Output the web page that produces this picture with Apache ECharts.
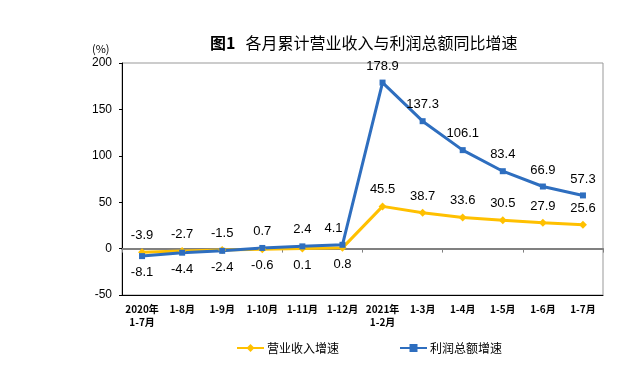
<!DOCTYPE html>
<html><head><meta charset="utf-8">
<script src="https://cdn.jsdelivr.net/npm/echarts@6/dist/echarts.min.js"></script>
<style>html,body{margin:0;padding:0;background:#fff}#c{width:640px;height:370px}</style>
</head><body><div id="c"></div>
<script>
const categories = ['2020年\n1-7月','1-8月','1-9月','1-10月','1-11月','1-12月','2021年\n1-2月','1-3月','1-4月','1-5月','1-6月','1-7月'];
const revenueGrowth = [-3.9,-2.7,-1.5,-0.6,0.1,0.8,45.5,38.7,33.6,30.5,27.9,25.6];
const profitGrowth = [-8.1,-4.4,-2.4,0.7,2.4,4.1,178.9,137.3,106.1,83.4,66.9,57.3];
const yTicks = [-50,0,50,100,150,200];
const seriesNames = ['营业收入增速','利润总额增速'];
const titleNo = '图1';
const titleText = '各月累计营业收入与利润总额同比增速';

// lower series labels go below only where the two lines nearly touch
function mk(vals, other){
  return vals.map((v,i)=>{
    const below = v < other[i] && other[i]-v < 20;
    const jump = i+1 < vals.length && vals[i+1]-v > 50;
    return {value:v, label:{position: below?'bottom':'top', offset: jump?[-9,0]:[0,0]}};
  });
}
const chart = echarts.init(document.getElementById('c'));
const lblFont = {fontFamily:'Liberation Sans, Arial', fontSize:13, color:'#000'};
chart.setOption({
  animation:false,
  title:{text:'{a|'+titleNo+'}  {b|'+titleText+'}', left:205, top:29,
    textStyle:{rich:{
      a:{fontFamily:'Noto Sans CJK SC', fontSize:16, fontWeight:'bold', color:'#000'},
      b:{fontFamily:'Noto Sans CJK SC', fontSize:16, fontWeight:'normal', color:'#000'}}}},
  graphic:[{type:'text', left:92, top:43, style:{text:'(%)', font:'11px Noto Sans CJK SC', fill:'#000'}}],
  grid:{left:122, right:37, top:63, bottom:75, show:true, borderColor:'#999', borderWidth:1},
  legend:{left:231, top:337, itemWidth:27, itemHeight:10, itemGap:60,
    textStyle:{fontFamily:'Noto Sans CJK SC', fontSize:12, color:'#000', padding:[0,0,0,-2]},
    data:seriesNames},
  xAxis:[
    {type:'category', data:categories, position:'bottom', boundaryGap:true,
     axisLine:{onZero:true, lineStyle:{color:'#808080', width:2}},
     axisTick:{show:true, length:4, lineStyle:{color:'#808080'}},
     axisLabel:{show:false}},
    {type:'category', data:categories, position:'bottom', boundaryGap:true,
     axisLine:{onZero:false, lineStyle:{color:'#000', width:1}},
     axisTick:{show:false},
     axisLabel:{interval:0, fontFamily:'Noto Sans CJK SC', fontSize:10, fontWeight:'bold', color:'#000', margin:8, lineHeight:13}}
  ],
  yAxis:{type:'value', min:yTicks[0], max:yTicks[yTicks.length-1], interval:50,
    axisLine:{show:true, lineStyle:{color:'#000'}},
    axisTick:{show:true, length:3, lineStyle:{color:'#000'}},
    splitLine:{show:false},
    axisLabel:{fontFamily:'Liberation Sans, Arial', fontSize:12, color:'#000', margin:10}},
  series:[
    {name:seriesNames[0], type:'line', data:mk(revenueGrowth, profitGrowth), xAxisIndex:0,
     symbol:'diamond', symbolSize:8, lineStyle:{color:'#FFC000', width:3}, itemStyle:{color:'#FFC000'},
     label:{show:true, distance:6, formatter:p=>p.value.toFixed(1), ...lblFont}},
    {name:seriesNames[1], type:'line', data:mk(profitGrowth, revenueGrowth), xAxisIndex:0,
     symbol:'rect', symbolSize:6, lineStyle:{color:'#2E6EBF', width:3}, itemStyle:{color:'#2E6EBF'},
     label:{show:true, distance:7, formatter:p=>p.value.toFixed(1), ...lblFont}}
  ]
});
</script></body></html>
